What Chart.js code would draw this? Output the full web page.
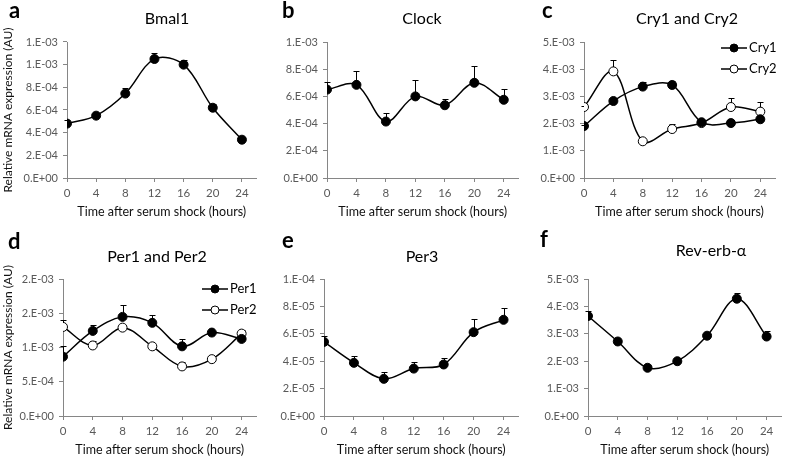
<!DOCTYPE html>
<html>
<head>
<meta charset="utf-8">
<script src="https://cdn.jsdelivr.net/npm/chart.js@4.4.1/dist/chart.umd.min.js"></script>
<style>
  body { margin: 0; background: #fff; width: 787px; height: 458px; position: relative; overflow: hidden; }
  canvas { position: absolute; }
</style>
</head>
<body>
<canvas id="pa" width="262" height="229" style="left:0;top:0"></canvas>
<canvas id="pb" width="262" height="229" style="left:262px;top:0"></canvas>
<canvas id="pc" width="263" height="229" style="left:524px;top:0"></canvas>
<canvas id="pd" width="262" height="229" style="left:0;top:229px"></canvas>
<canvas id="pe" width="262" height="229" style="left:262px;top:229px"></canvas>
<canvas id="pf" width="263" height="229" style="left:524px;top:229px"></canvas>
<script>
// time points (hours after serum shock)
const hours = [0, 4, 8, 12, 16, 20, 24];
const xTicks = [0, 4, 8, 12, 16, 20, 24];

// mean expression and upper error (SE) per gene
const bmal1 = [4.8e-4, 5.5e-4, 7.45e-4, 1.05e-3, 1.0e-3, 6.2e-4, 3.38e-4];
const bmal1Err = [0.3e-4, 0.17e-4, 0.53e-4, 0.5e-4, 0.45e-4, 0.3e-4, 0.22e-4];

const clock = [6.5e-4, 6.85e-4, 4.15e-4, 6.0e-4, 5.35e-4, 7.0e-4, 5.75e-4];
const clockErr = [0.55e-4, 1.0e-4, 0.62e-4, 1.2e-4, 0.47e-4, 1.27e-4, 0.83e-4];

const cry1 = [1.91e-3, 2.83e-3, 3.36e-3, 3.42e-3, 2.05e-3, 2.02e-3, 2.16e-3];
const cry1Err = [0.05e-3, 0.05e-3, 0.16e-3, 0.13e-3, 0.05e-3, 0.04e-3, 0.05e-3];
const cry2 = [2.61e-3, 3.92e-3, 1.35e-3, 1.80e-3, 2.02e-3, 2.61e-3, 2.44e-3];
const cry2Err = [0.05e-3, 0.43e-3, 0.05e-3, 0.2e-3, 0.05e-3, 0.33e-3, 0.34e-3];

const per1 = [0.866e-3, 1.242e-3, 1.447e-3, 1.36e-3, 1.017e-3, 1.218e-3, 1.125e-3];
const per1Err = [0.16e-3, 0.09e-3, 0.18e-3, 0.12e-3, 0.1e-3, 0.03e-3, 0.03e-3];
const per2 = [1.30e-3, 1.03e-3, 1.29e-3, 1.017e-3, 0.724e-3, 0.83e-3, 1.203e-3];
const per2Err = [0.1e-3, 0.07e-3, 0.04e-3, 0.03e-3, 0.06e-3, 0.03e-3, 0.05e-3];

const per3 = [5.41e-5, 3.88e-5, 2.71e-5, 3.46e-5, 3.76e-5, 6.12e-5, 7.02e-5];
const per3Err = [0.42e-5, 0.49e-5, 0.51e-5, 0.47e-5, 0.44e-5, 0.93e-5, 0.83e-5];

const revErb = [3.65e-3, 2.72e-3, 1.76e-3, 2.0e-3, 2.93e-3, 4.28e-3, 2.9e-3];
const revErbErr = [0.18e-3, 0.06e-3, 0.08e-3, 0.05e-3, 0.05e-3, 0.22e-3, 0.21e-3];

const xTitle = 'Time after serum shock (hours)';
const yTitle = 'Relative mRNA expression (AU)';

const axisColor = '#868686';
const tickColor = '#595959';
const FONT = 'Lato, "Open Sans", sans-serif';

// Excel style "0.E+00" labels
function sciLabel(v) {
  if (Math.abs(v) < 1e-12) return '0.E+00';
  let e = Math.floor(Math.log10(v) + 1e-9);
  let m = Math.round(v / Math.pow(10, e) + 1e-9);
  if (m >= 10) { m = 1; e += 1; }
  const sign = e < 0 ? '-' : '+';
  return m + '.E' + sign + String(Math.abs(e)).padStart(2, '0');
}

// up-only error bars with a cap
const errorBars = {
  id: 'errorBars',
  beforeDatasetsDraw(chart) {
    const ctx = chart.ctx, xs = chart.scales.x, ys = chart.scales.y;
    ctx.save();
    ctx.strokeStyle = '#000';
    ctx.lineWidth = 1;
    chart.data.datasets.forEach(ds => {
      ds.data.forEach((p, i) => {
        const px = Math.round(xs.getPixelForValue(p.x)) + 0.5;
        const y0 = ys.getPixelForValue(p.y);
        const y1 = Math.round(ys.getPixelForValue(p.y + ds.err[i])) + 0.5;
        ctx.beginPath();
        ctx.moveTo(px, y0);
        ctx.lineTo(px, y1);
        ctx.moveTo(px - 3, y1);
        ctx.lineTo(px + 3, y1);
        ctx.stroke();
      });
    });
    ctx.restore();
  }
};

// panel letter, title and line+marker legend
const panelDeco = {
  id: 'panelDeco',
  afterDraw(chart, args, o) {
    const ctx = chart.ctx;
    ctx.save();
    ctx.fillStyle = '#000';
    ctx.textBaseline = 'alphabetic';
    ctx.textAlign = 'left';
    ctx.font = 'bold 22px ' + FONT;
    ctx.fillText(o.letter, o.lx, o.ly);
    ctx.font = '16px ' + FONT;
    ctx.textAlign = 'center';
    ctx.textBaseline = 'middle';
    ctx.fillText(o.title, o.tx, o.ty);
    if (o.legend) {
      chart.data.datasets.forEach((ds, i) => {
        const y = o.legend.y + i * o.legend.gap;
        const x = o.legend.x;
        ctx.strokeStyle = '#000';
        ctx.lineWidth = 1.5;
        ctx.beginPath();
        ctx.moveTo(x, y);
        ctx.lineTo(x + 26, y);
        ctx.stroke();
        ctx.beginPath();
        ctx.arc(x + 13, y, 4, 0, Math.PI * 2);
        ctx.fillStyle = ds.pointBackgroundColor;
        ctx.fill();
        ctx.lineWidth = 1;
        ctx.stroke();
        ctx.fillStyle = '#000';
        ctx.font = '13px ' + FONT;
        ctx.textAlign = 'left';
        ctx.fillText(ds.label, x + 28, y);
      });
    }
    ctx.restore();
  }
};

function series(label, vals, errs, filled) {
  return {
    label: label,
    data: hours.map((h, i) => ({ x: h, y: vals[i] })),
    err: errs,
    borderColor: '#000',
    borderWidth: 1.5,
    tension: 0.35,
    pointRadius: 4.5,
    pointHoverRadius: 4.5,
    pointBorderWidth: 1,
    pointBorderColor: '#000',
    pointBackgroundColor: filled ? '#000' : '#fff'
  };
}

function panel(id, datasets, p) {
  new Chart(document.getElementById(id), {
    type: 'line',
    data: { datasets: datasets },
    plugins: [errorBars, panelDeco],
    options: {
      responsive: false,
      devicePixelRatio: 1,
      animation: false,
      events: [],
      layout: { padding: { top: p.top, right: p.right, left: 0, bottom: 0 } },
      plugins: {
        legend: { display: false },
        tooltip: { enabled: false },
        panelDeco: p.deco
      },
      scales: {
        x: {
          type: 'linear', min: 0, max: 26,
          afterBuildTicks: s => { s.ticks = xTicks.map(v => ({ value: v })); },
          afterFit: s => { s.height = p.xh; },
          border: { color: axisColor, width: 1 },
          grid: { drawOnChartArea: false, tickLength: 4, color: axisColor },
          ticks: { color: tickColor, font: { family: FONT, size: 11.5 }, padding: 4, maxRotation: 0, autoSkip: false },
          title: { display: true, text: xTitle, color: '#111', font: { family: FONT, size: 12.5 }, padding: { top: 0, bottom: p.xtb } }
        },
        y: {
          min: 0, max: p.max,
          afterBuildTicks: s => {
            const t = [];
            for (let v = 0; v <= p.max * 1.0001; v += p.step) t.push({ value: v });
            s.ticks = t;
          },
          afterFit: s => { s.width = p.yw; },
          border: { color: axisColor, width: 1 },
          grid: { drawOnChartArea: false, tickLength: 4, color: axisColor },
          ticks: { color: tickColor, font: { family: FONT, size: 11 }, padding: 5, callback: v => sciLabel(v) },
          title: { display: !!p.ytitle, text: yTitle, color: '#111', font: { family: FONT, size: 12 }, padding: { top: 1, bottom: 0 } }
        }
      }
    }
  });
}

panel('pa', [series('Bmal1', bmal1, bmal1Err, true)],
  { top: 42, right: 1, xh: 51, xtb: 10, yw: 67, max: 1.2e-3, step: 2e-4, ytitle: true,
    deco: { letter: 'a', lx: 9, ly: 18, title: 'Bmal1', tx: 167, ty: 19 } });

panel('pb', [series('Clock', clock, clockErr, true)],
  { top: 42, right: 3, xh: 51, xtb: 10, yw: 65, max: 1e-3, step: 2e-4,
    deco: { letter: 'b', lx: 20, ly: 18, title: 'Clock', tx: 160, ty: 19 } });

panel('pc', [series('Cry1', cry1, cry1Err, true), series('Cry2', cry2, cry2Err, false)],
  { top: 42, right: 12, xh: 51, xtb: 10, yw: 60, max: 5e-3, step: 1e-3,
    deco: { letter: 'c', lx: 18, ly: 18, title: 'Cry1 and Cry2', tx: 163, ty: 19,
            legend: { x: 197, y: 48, gap: 21 } } });

panel('pd', [series('Per1', per1, per1Err, true), series('Per2', per2, per2Err, false)],
  { top: 50, right: 1, xh: 42, xtb: 1, yw: 63, max: 2e-3, step: 5e-4, ytitle: true,
    deco: { letter: 'd', lx: 8, ly: 20, title: 'Per1 and Per2', tx: 157, ty: 28,
            legend: { x: 202, y: 60, gap: 21 } } });

panel('pe', [series('Per3', per3, per3Err, true)],
  { top: 50, right: 3, xh: 42, xtb: 1, yw: 62, max: 1e-4, step: 2e-5,
    deco: { letter: 'e', lx: 20, ly: 19, title: 'Per3', tx: 160, ty: 28 } });

panel('pf', [series('Rev-erb-α', revErb, revErbErr, true)],
  { top: 50, right: 1, xh: 42, xtb: 1, yw: 64, max: 5e-3, step: 1e-3,
    deco: { letter: 'f', lx: 16, ly: 18, title: 'Rev-erb-α', tx: 187, ty: 22 } });
</script>
</body>
</html>
